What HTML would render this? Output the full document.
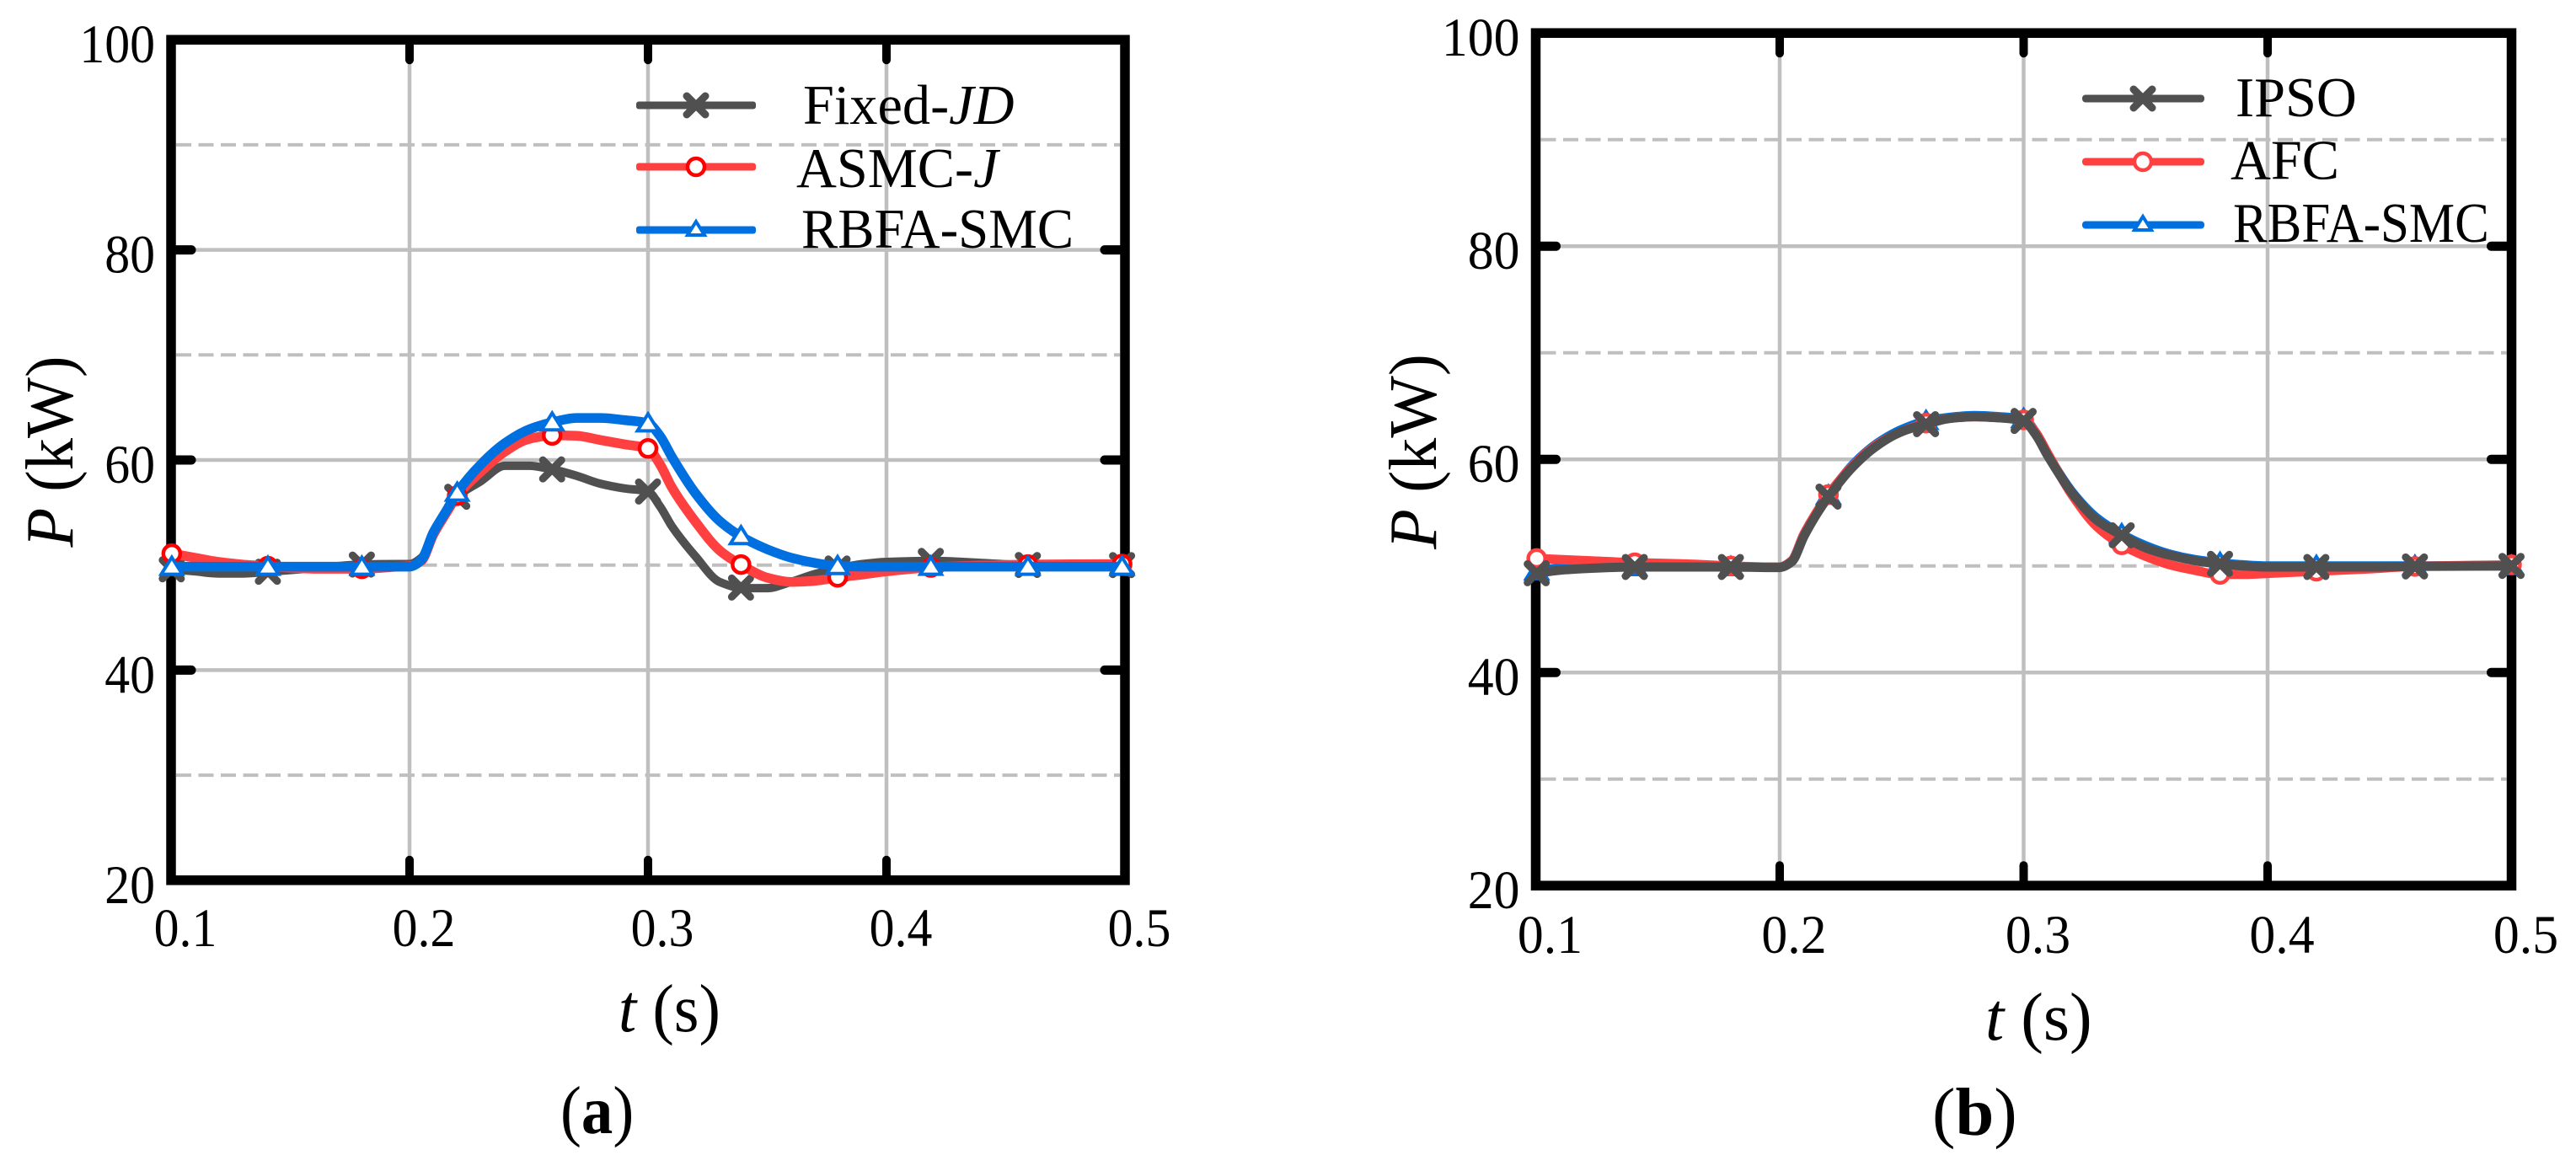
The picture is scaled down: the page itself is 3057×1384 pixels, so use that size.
<!DOCTYPE html>
<html lang="en">
<head>
<meta charset="utf-8">
<title>Power response comparison, panels a and b</title>
<style>
html,body{margin:0;padding:0;background:#fff;}
svg{display:block;}
text{font-family:"Liberation Serif",serif;fill:#000;}
</style>
</head>
<body>
<svg id="figure" xmlns="http://www.w3.org/2000/svg" width="3057" height="1384" viewBox="0 0 3057 1384">
  <rect x="0" y="0" width="3057" height="1384" fill="#fff"/>
  <g id="chart-a"></g>
  <g id="chart-b"></g>

  <text font-size="80" text-anchor="middle" transform="translate(86,536) rotate(-90) scale(.955,1)"><tspan font-style="italic">P</tspan> (kW)</text>
  <text font-size="80" transform="translate(734,1224) scale(.955,1)"><tspan font-style="italic">t</tspan> (s)</text>
  <text font-size="80" transform="translate(665,1345) scale(.935,1)">(<tspan font-weight="bold">a</tspan>)</text>

  <text font-size="80" text-anchor="middle" transform="translate(1704,536) rotate(-90) scale(.975,1)"><tspan font-style="italic">P</tspan> (kW)</text>
  <text font-size="80" transform="translate(2356,1234)"><tspan font-style="italic">t</tspan> (s)</text>
  <text font-size="80" transform="translate(2293,1347) scale(1.03,1)">(<tspan font-weight="bold">b</tspan>)</text>

  <g>
    <g>
      <rect x="755" y="120.5" width="142" height="9" rx="3" fill="#505050"/>
      <path d="M815 114L837 136M837 114L815 136" stroke="#505050" stroke-width="9" stroke-linecap="round" fill="none"/>
      <text font-size="67" transform="translate(953,147) scale(.99,1)">Fixed-<tspan font-style="italic">JD</tspan></text>
    </g>
    <g>
      <rect x="755" y="193.5" width="142" height="9" rx="3" fill="#ff4040"/>
      <circle cx="826" cy="198" r="10" fill="#fff" stroke="#ff0000" stroke-width="4.5"/>
      <text font-size="67" transform="translate(945,222) scale(.99,1)">ASMC-<tspan font-style="italic">J</tspan></text>
    </g>
    <g>
      <rect x="755" y="268.5" width="142" height="9" rx="3" fill="#0070e0"/>
      <path d="M826 263L836 279H816Z" fill="#fff" stroke="#0070e0" stroke-width="4"/>
      <text font-size="67" transform="translate(951,294) scale(.968,1)">RBFA-SMC</text>
    </g>
  </g>

  <g>
    <g>
      <rect x="2471" y="112.5" width="145" height="9" rx="4" fill="#505050"/>
      <path d="M2532 106L2554 128M2554 106L2532 128" stroke="#505050" stroke-width="9" stroke-linecap="round" fill="none"/>
      <text font-size="67" transform="translate(2653,138) scale(.99,1)">IPSO</text>
    </g>
    <g>
      <rect x="2471" y="187.5" width="145" height="9" rx="4" fill="#ff4040"/>
      <circle cx="2543" cy="192" r="10" fill="#fff" stroke="#ff4040" stroke-width="4.5"/>
      <text font-size="67" transform="translate(2647,212.7) scale(.99,1)">AFC</text>
    </g>
    <g>
      <rect x="2471" y="262.5" width="145" height="9" rx="4" fill="#0070e0"/>
      <path d="M2543 257L2553 273H2533Z" fill="#fff" stroke="#0070e0" stroke-width="4"/>
      <text font-size="67" transform="translate(2650,287) scale(.91,1)">RBFA-SMC</text>
    </g>
  </g>
</svg>

<script>
// Shared sample times and axis labels
var times = [.1,.11,.12,.13,.14,.16,.18,.195,.2,.205,.21,.215,.22,.23,.24,.25,.26,.27,.28,.29,.3,.305,.31,.32,.33,.34,.35,.36,.37,.38,.39,.4,.42,.44,.46,.5];
var xTickValues = [.1,.2,.3,.4,.5];
var xTickLabels = ['0.1','0.2','0.3','0.4','0.5'];
var yTickValues = [20,40,60,80,100];
var yTickLabels = ['20','40','60','80','100'];
var solidXGrid = [.2,.3,.4];
var solidYGrid = [40,60,80];
var dashedYGrid = [30,50,70,90];

// Panel (a) series, kW
var fixedJD = [49.6,49.4,49.2,49.2,49.35,49.7,50.05,50.1,50.1,50.7,53.0,55.0,56.5,58.0,59.45,59.45,59.1,58.5,57.75,57.3,57.0,55.6,53.7,50.8,48.4,47.8,47.8,48.4,49.15,49.7,50.1,50.3,50.4,50.2,50.0,50.0];
var asmcJ = [51.1,50.7,50.3,50.05,49.9,49.65,49.65,49.85,49.9,50.4,52.9,54.8,56.6,58.9,60.8,62.0,62.35,62.3,61.9,61.5,61.1,59.6,57.4,54.1,51.4,49.9,48.8,48.4,48.5,48.85,49.1,49.4,49.8,49.95,50.05,50.1];
var rbfaSmcA = [49.85,49.85,49.85,49.85,49.85,49.85,49.85,49.85,49.85,50.5,53.1,55.0,56.9,59.6,61.6,62.9,63.6,64.0,64.0,63.8,63.5,62.3,60.3,56.8,54.2,52.6,51.5,50.7,50.2,49.9,49.85,49.85,49.85,49.85,49.85,49.85];
var markerTimesA = [.1003,.1406,.18,.22,.2598,.3,.339,.3795,.4186,.4593,.4988];

// Panel (b) series, kW
var ipso = [49.3,49.6,49.75,49.85,49.9,49.9,49.9,49.85,49.85,50.4,52.8,54.8,56.5,59.3,61.3,62.6,63.3,63.85,64.0,63.9,63.6,62.3,60.3,56.8,54.3,52.9,51.7,51.0,50.5,50.2,50.0,49.9,49.9,49.9,49.95,50.0];
var afc = [50.7,50.6,50.5,50.4,50.3,50.2,50.0,49.9,49.9,50.5,53.0,55.0,56.7,59.4,61.4,62.6,63.4,63.85,64.0,63.9,63.7,62.5,60.5,56.6,53.7,52.0,50.9,50.1,49.6,49.2,49.2,49.3,49.5,49.7,49.95,50.1];
var rbfaSmcB = [49.5,49.8,49.85,49.9,49.9,49.9,49.9,49.9,49.9,50.5,53.0,54.9,56.6,59.5,61.5,62.8,63.6,63.95,64.1,64.0,63.8,62.5,60.4,56.9,54.5,53.0,51.9,51.1,50.6,50.3,50.1,50.0,50.0,50.0,50.0,50.0];
var markerTimesB = [.1004,.1406,.18,.22,.26,.3,.3402,.3805,.42,.4604,.5];

var NS = 'http://www.w3.org/2000/svg';

function make(parent, tag, attrs) {
  var el = document.createElementNS(NS, tag);
  for (var k in attrs) { el.setAttribute(k, attrs[k]); }
  parent.appendChild(el);
  return el;
}

function valueAt(t, values) {
  for (var i = 0; i < times.length - 1; i++) {
    if (t <= times[i + 1]) {
      var f = (t - times[i]) / (times[i + 1] - times[i]);
      return values[i] + f * (values[i + 1] - values[i]);
    }
  }
  return values[values.length - 1];
}

// Monotone cubic path through the screen points, so the curve stays smooth without overshoot
function smoothPath(xs, ys) {
  var n = xs.length, d = [], m = [], i;
  for (i = 0; i < n - 1; i++) { d[i] = (ys[i + 1] - ys[i]) / (xs[i + 1] - xs[i]); }
  m[0] = d[0];
  m[n - 1] = d[n - 2];
  for (i = 1; i < n - 1; i++) {
    if (d[i - 1] * d[i] <= 0) {
      m[i] = 0;
    } else {
      var h0 = xs[i] - xs[i - 1], h1 = xs[i + 1] - xs[i];
      m[i] = 3 * (h0 + h1) / ((2 * h1 + h0) / d[i - 1] + (h1 + 2 * h0) / d[i]);
    }
  }
  var p = 'M' + xs[0].toFixed(1) + ' ' + ys[0].toFixed(1);
  for (i = 0; i < n - 1; i++) {
    var h = (xs[i + 1] - xs[i]) / 3;
    p += 'C' + (xs[i] + h).toFixed(1) + ' ' + (ys[i] + m[i] * h).toFixed(1) + ' ' +
         (xs[i + 1] - h).toFixed(1) + ' ' + (ys[i + 1] - m[i + 1] * h).toFixed(1) + ' ' +
         xs[i + 1].toFixed(1) + ' ' + ys[i + 1].toFixed(1);
  }
  return p;
}

function drawMarker(g, kind, px, py, color) {
  var el;
  if (kind === 'cross') {
    el = make(g, 'path', {
      d: 'M' + (px - 11) + ' ' + (py - 11) + 'L' + (px + 11) + ' ' + (py + 11) + 'M' + (px + 11) + ' ' + (py - 11) + 'L' + (px - 11) + ' ' + (py + 11),
      stroke: color, 'stroke-width': 9, 'stroke-linecap': 'round', fill: 'none'
    });
    
    
  } else if (kind === 'circle') {
    el = make(g, 'circle', { cx: px, cy: py, r: 10, fill: '#fff', stroke: color, 'stroke-width': 4.5 });
    
    
  } else {
    el = make(g, 'path', {
      d: 'M' + px + ' ' + (py - 11) + 'L' + (px + 12.5) + ' ' + (py + 9) + 'H' + (px - 12.5) + 'Z',
      fill: '#fff', stroke: color, 'stroke-width': 4
    });
    
    
  }
}

function drawChart(root, cfg) {
  function xScale(t) { return cfg.x0 + (t - 0.2) * cfg.xPerUnit; }
  function yScale(v) { return cfg.y0 - (v - 50) * cfg.yPerUnit; }
  var left = xScale(0.1), right = xScale(0.5), top = yScale(100), bottom = yScale(20);
  var i, el;

  dashedYGrid.forEach(function (v) {
    var line = make(root, 'line', { x1: left + 6, x2: right - 6, y1: yScale(v), y2: yScale(v), stroke: '#bfbfbf', 'stroke-width': 4, 'stroke-dasharray': '18 8.5' });
    
    
  });
  solidYGrid.forEach(function (v) {
    var line = make(root, 'line', { x1: left, x2: right, y1: yScale(v), y2: yScale(v), stroke: '#bfbfbf', 'stroke-width': 4.5 });
    
    
  });
  solidXGrid.forEach(function (t) {
    var line = make(root, 'line', { x1: xScale(t), x2: xScale(t), y1: top, y2: bottom, stroke: '#bfbfbf', 'stroke-width': 4.5 });
    
    
  });

  el = make(root, 'rect', { x: left, y: top, width: right - left, height: bottom - top, fill: 'none', stroke: '#000', 'stroke-width': 11.5 });
  
  

  solidYGrid.forEach(function (v) {
    var a = make(root, 'line', { x1: left, x2: left + 24, y1: yScale(v), y2: yScale(v), stroke: '#000', 'stroke-width': 11, 'stroke-linecap': 'round' });
    
    
    var b = make(root, 'line', { x1: right, x2: right - 24, y1: yScale(v), y2: yScale(v), stroke: '#000', 'stroke-width': 11, 'stroke-linecap': 'round' });
    
    
  });
  solidXGrid.forEach(function (t) {
    var a = make(root, 'line', { x1: xScale(t), x2: xScale(t), y1: bottom, y2: bottom - 24, stroke: '#000', 'stroke-width': 10, 'stroke-linecap': 'round' });
    
    
    var b = make(root, 'line', { x1: xScale(t), x2: xScale(t), y1: top, y2: top + 24, stroke: '#000', 'stroke-width': 10, 'stroke-linecap': 'round' });
    
    
  });

  for (i = 0; i < yTickValues.length; i++) {
    el = make(root, 'text', { 'font-size': 65, 'text-anchor': 'end', transform: 'translate(' + (left - 19) + ',' + (yScale(yTickValues[i]) + 27) + ') scale(' + cfg.tickSx + ',1)' });
    el.textContent = yTickLabels[i];
    
    
  }
  for (i = 0; i < xTickValues.length; i++) {
    el = make(root, 'text', { 'font-size': 65, 'text-anchor': 'middle', transform: 'translate(' + (xScale(xTickValues[i]) + 17) + ',' + cfg.xLabelY + ') scale(' + cfg.tickSx + ',1)' });
    el.textContent = xTickLabels[i];
    
    
  }

  cfg.series.forEach(function (s) {
    var g = make(root, 'g', {});
    
    
    var line = make(g, 'path', {
      d: smoothPath(times.map(xScale), s.values.map(yScale)),
      fill: 'none', stroke: s.color, 'stroke-width': s.width, 'stroke-linejoin': 'round'
    });
    
    
    cfg.markerTimes.forEach(function (t) {
      drawMarker(g, s.marker, xScale(t), yScale(valueAt(t, s.values)), s.markerColor);
    });
  });
}

drawChart(document.getElementById('chart-a'), {
  x0: 486, xPerUnit: 2830, y0: 670.7, yPerUnit: 12.47, xLabelY: 1123, tickSx: 0.92,
  markerTimes: markerTimesA,
  series: [
    { name: 'series-fixed-jd', values: fixedJD, color: '#505050', markerColor: '#505050', marker: 'cross', width: 10 },
    { name: 'series-asmc-j', values: asmcJ, color: '#ff4040', markerColor: '#ff0000', marker: 'circle', width: 11.5 },
    { name: 'series-rbfa-smc-a', values: rbfaSmcA, color: '#0070e0', markerColor: '#0070e0', marker: 'triangle', width: 11.5 }
  ]
});

drawChart(document.getElementById('chart-b'), {
  x0: 2112, xPerUnit: 2895, y0: 671.7, yPerUnit: 12.65, xLabelY: 1131, tickSx: 0.95,
  markerTimes: markerTimesB,
  series: [
    { name: 'series-rbfa-smc-b', values: rbfaSmcB, color: '#0070e0', markerColor: '#0070e0', marker: 'triangle', width: 11 },
    { name: 'series-afc', values: afc, color: '#ff4040', markerColor: '#ff4040', marker: 'circle', width: 11 },
    { name: 'series-ipso', values: ipso, color: '#505050', markerColor: '#505050', marker: 'cross', width: 11 }
  ]
});
</script>
</body>
</html>
